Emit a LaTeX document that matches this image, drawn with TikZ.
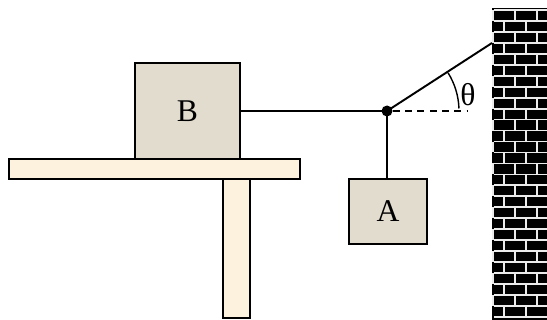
\documentclass[tikz,border=0pt]{standalone}
\usepackage{fontspec}
\setmainfont{Liberation Serif}
\definecolor{blockfill}{RGB}{226,220,207}
\definecolor{woodfill}{RGB}{252,242,222}
\begin{document}
\begin{tikzpicture}[x=0.02cm,y=-0.02cm,
    block/.style={draw,line width=1.1pt,fill=blockfill,inner sep=0pt,
      font=\fontsize{18}{20}\selectfont},
    wood/.style={draw,line width=1.1pt,fill=woodfill},
    rope/.style={line width=1.1pt},
    mortar/.style={draw=black!8,line width=1pt}]
  \useasboundingbox (0,0) rectangle (547,320);
  % table
  \draw[wood] (223,179) rectangle (250,318);
  \draw[wood] (9,159) rectangle (300,179);
  % blocks
  \node[block,minimum width=2.1cm,minimum height=1.92cm] (B) at (187.5,111) {B};
  \node[block,minimum width=1.56cm,minimum height=1.3cm] (A) at (388,211.5) {A};
  % wall
  \fill[black] (492,8) rectangle (547,320);
  \begin{scope}
    \clip (492,8) rectangle (547,320);
    \foreach \k in {0,...,28}
      \draw[mortar] (494,{10+10.96*\k}) -- (547,{10+10.96*\k});
    \foreach \k in {0,...,27} {
      \pgfmathsetmacro\yt{10+10.96*\k}
      \pgfmathsetmacro\xs{493+11*mod(\k,2)}
      \foreach \j in {0,1,2}
        \draw[mortar] ({\xs+22*\j},\yt) -- ++(0,10.96);
    }
  \end{scope}
  % strings
  \node[circle,fill,inner sep=0pt,minimum size=0.22cm] (knot) at (387,111) {};
  \coordinate (hook) at (492,43);
  \coordinate (level) at (468,111);
  \draw[rope] (B.east) -- (knot.center);
  \draw[rope] (knot.center) -- (hook);
  \draw[rope] (knot.center) -- (knot.center |- A.north);
  \draw[line width=0.9pt,dash pattern=on 4pt off 3pt] (knot) -- (level);
  \draw[line width=0.8pt] ([shift={(-2:72)}]knot.center) arc[start angle=-2,end angle=-32,radius=72];
  \node[font=\fontsize{18}{20}\selectfont,inner sep=0pt] (theta) at (468,95) {θ};
\end{tikzpicture}
\end{document}
